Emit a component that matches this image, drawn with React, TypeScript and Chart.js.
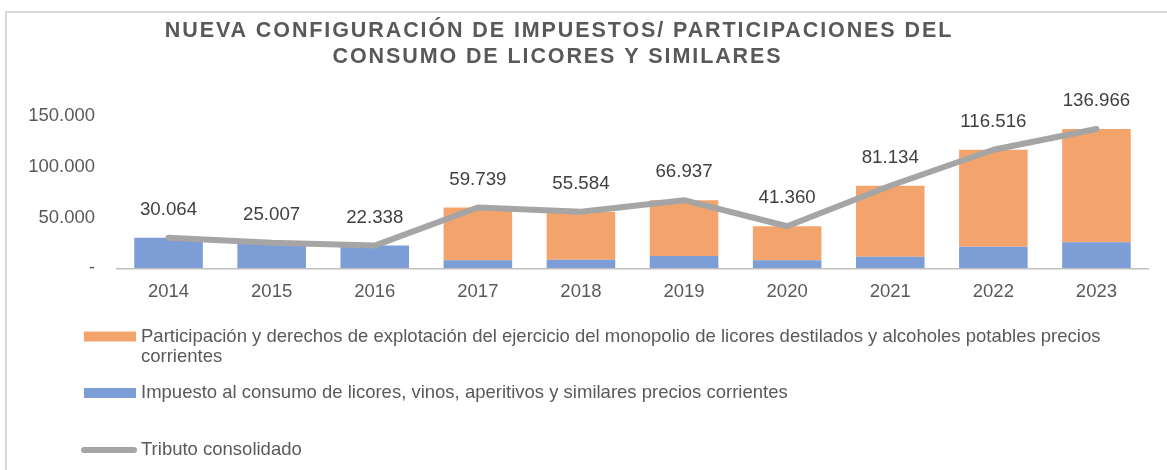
import React, { useEffect, useRef } from "react";
import { Chart, registerables } from "chart.js";

Chart.register(...registerables);

const TITLE_LINES = [
  "NUEVA CONFIGURACIÓN DE IMPUESTOS/ PARTICIPACIONES DEL",
  "CONSUMO DE LICORES Y SIMILARES",
];
const YEARS = ["2014", "2015", "2016", "2017", "2018", "2019", "2020", "2021", "2022", "2023"];
const IMPUESTO = [30064, 25007, 22338, 7900, 8500, 12100, 7900, 11400, 21200, 25600];
const PARTICIPACION = [0, 0, 0, 51839, 47084, 54837, 33460, 69734, 95316, 111366];
const TRIBUTO = [30064, 25007, 22338, 59739, 55584, 66937, 41360, 81134, 116516, 136966];
const Y_TICKS = [0, 50000, 100000, 150000];

const LABEL_PART =
  "Participación y derechos de explotación del ejercicio del monopolio de licores destilados y alcoholes potables precios corrientes";
const LABEL_IMP = "Impuesto al consumo de licores, vinos, aperitivos y similares precios corrientes";
const LABEL_TRIB = "Tributo consolidado";

const FONT = '"Liberation Sans", Arial, sans-serif';
const C_ORANGE = "#f3a46d";
const C_BLUE = "#7d9dd6";
const C_GRAY = "#a5a5a5";
const C_TEXT = "#595959";

function fmt(v: number): string {
  if (v === 0) return "-";
  const s = Math.round(v).toString();
  return s.replace(/\B(?=(\d{3})+(?!\d))/g, ".");
}

function wrap(ctx: CanvasRenderingContext2D, text: string, maxW: number): string[] {
  const words = text.split(" ");
  const lines: string[] = [];
  let cur = "";
  for (const w of words) {
    const t = cur ? cur + " " + w : w;
    if (ctx.measureText(t).width > maxW && cur) {
      lines.push(cur);
      cur = w;
    } else cur = t;
  }
  if (cur) lines.push(cur);
  return lines;
}

const decor = {
  id: "decor",
  beforeDraw(chart: any) {
    const ctx = chart.ctx as CanvasRenderingContext2D;
    ctx.save();
    ctx.strokeStyle = "#d9d9d9";
    ctx.lineWidth = 2;
    ctx.beginPath();
    ctx.moveTo(6, 470);
    ctx.lineTo(6, 12);
    ctx.lineTo(1167, 12);
    ctx.stroke();
    ctx.restore();
  },
  afterDraw(chart: any) {
    const ctx = chart.ctx as CanvasRenderingContext2D;
    ctx.save();
    // title
    ctx.fillStyle = C_TEXT;
    ctx.font = `bold 21.5px ${FONT}`;
    (ctx as any).letterSpacing = "1.9px";
    ctx.textAlign = "center";
    ctx.textBaseline = "alphabetic";
    ctx.fillText(TITLE_LINES[0], 559, 37);
    ctx.fillText(TITLE_LINES[1], 557.5, 62.5);
    (ctx as any).letterSpacing = "0px";

    // data labels on line
    const lineIdx = chart.data.datasets.findIndex((d: any) => d.type === "line");
    const meta = chart.getDatasetMeta(lineIdx);
    ctx.font = `18.7px ${FONT}`;
    ctx.fillStyle = "#404040";
    ctx.textBaseline = "middle";
    meta.data.forEach((pt: any, i: number) => {
      const v = chart.data.datasets[lineIdx].data[i];
      ctx.fillText(fmt(v), pt.x, pt.y - 28);
    });

    // legend
    const order = [2, 1, 0];
    const ys = [336.5, 393, 450];
    ctx.textAlign = "left";
    ctx.font = `18.5px ${FONT}`;
    order.forEach((di, k) => {
      const ds = chart.data.datasets[di];
      const y = ys[k];
      if (ds.type === "line") {
        ctx.strokeStyle = ds.borderColor;
        ctx.lineWidth = 6;
        ctx.lineCap = "round";
        ctx.beginPath();
        ctx.moveTo(84, y);
        ctx.lineTo(134, y);
        ctx.stroke();
      } else {
        ctx.fillStyle = ds.backgroundColor;
        ctx.fillRect(84, y - 5, 52, 10);
      }
      ctx.fillStyle = C_TEXT;
      const lines = wrap(ctx, ds.label, 1010);
      lines.forEach((ln, j) => ctx.fillText(ln, 141, y + j * 20.5));
    });
    ctx.restore();
  },
};

export default function App() {
  const ref = useRef<HTMLCanvasElement | null>(null);
  useEffect(() => {
    if (!ref.current) return;
    const chart = new Chart(ref.current, {
      type: "bar",
      data: {
        labels: YEARS,
        datasets: [
          {
            type: "line",
            label: LABEL_TRIB,
            data: TRIBUTO,
            borderColor: C_GRAY,
            backgroundColor: C_GRAY,
            borderWidth: 6,
            pointRadius: 0,
            borderCapStyle: "round",
            borderJoinStyle: "round",
            tension: 0,
            stack: "line",
            order: 0,
          } as any,
          {
            type: "bar",
            label: LABEL_IMP,
            data: IMPUESTO,
            backgroundColor: C_BLUE,
            stack: "s",
            order: 1,
            categoryPercentage: 1,
            barPercentage: 0.665,
          },
          {
            type: "bar",
            label: LABEL_PART,
            data: PARTICIPACION,
            backgroundColor: C_ORANGE,
            stack: "s",
            order: 2,
            categoryPercentage: 1,
            barPercentage: 0.665,
          },
        ],
      },
      options: {
        animation: false,
        responsive: false,
        maintainAspectRatio: false,
        layout: { padding: { top: 115.7, left: 0, right: 19, bottom: 161.7 } },
        plugins: {
          legend: { display: false },
          title: { display: false },
          tooltip: { enabled: false },
        },
        scales: {
          x: {
            stacked: true,
            grid: { display: false, drawTicks: false },
            border: { display: true, color: "#bfbfbf", width: 1.5 },
            ticks: { color: C_TEXT, font: { family: FONT, size: 18.5 }, padding: 13 },
            afterFit: (s: any) => {
              s.height = 40;
            },
          },
          y: {
            stacked: true,
            min: 0,
            max: 150000,
            afterBuildTicks: (s: any) => {
              s.ticks = Y_TICKS.map((v) => ({ value: v }));
            },
            grid: { display: false, drawTicks: false },
            border: { display: false },
            ticks: {
              color: C_TEXT,
              font: { family: FONT, size: 18.5 },
              padding: 22,
              callback: (v: any) => fmt(Number(v)),
            },
            afterFit: (s: any) => {
              s.width = 117;
            },
          },
        },
      },
      plugins: [decor],
    });
    return () => chart.destroy();
  }, []);
  return (
    <div style={{ position: "fixed", left: 0, top: 0, width: 1167, height: 470, background: "#fff" }}>
      <canvas ref={ref} width={1167} height={470} style={{ display: "block" }} />
    </div>
  );
}
